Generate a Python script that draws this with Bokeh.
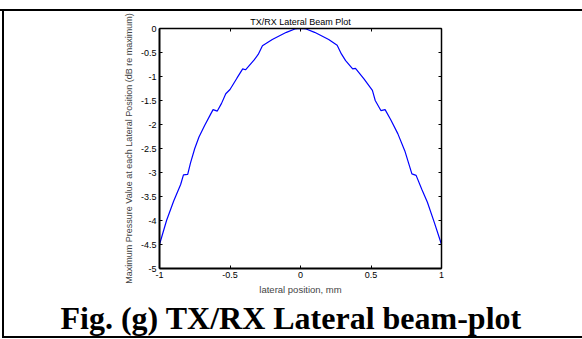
from bokeh.plotting import figure
from bokeh.models import Range1d, LinearAxis, FixedTicker, Title, Spacer
from bokeh.layouts import column, row
from bokeh.embed import file_html
from bokeh.resources import INLINE

# ---- data ----
lateral_mm = [-1.00, -0.95, -0.90, -0.85, -0.83, -0.80, -0.78, -0.75, -0.72, -0.68,
              -0.64, -0.62, -0.59, -0.56, -0.53, -0.50, -0.45, -0.41, -0.39, -0.33,
              -0.30, -0.27, -0.20, -0.10, -0.04, 0.00, 0.04, 0.10, 0.20, 0.26,
              0.29, 0.32, 0.37, 0.39, 0.45, 0.51, 0.53, 0.57, 0.60, 0.64,
              0.69, 0.74, 0.79, 0.82, 0.86, 0.90, 0.95, 1.00]
pressure_db = [-4.50, -4.00, -3.60, -3.25, -3.05, -3.04, -2.80, -2.50, -2.26, -2.02,
               -1.80, -1.69, -1.72, -1.56, -1.36, -1.27, -1.03, -0.84, -0.86, -0.66,
               -0.54, -0.36, -0.23, -0.08, -0.01, 0.00, -0.01, -0.08, -0.23, -0.35,
               -0.53, -0.67, -0.84, -0.83, -1.05, -1.29, -1.50, -1.71, -1.69, -1.90,
               -2.19, -2.55, -3.03, -3.06, -3.35, -3.62, -4.05, -4.50]
x_ticks = [-1, -0.5, 0, 0.5, 1]
x_tick_labels = ["-1", "-0.5", "0", "0.5", "1"]
y_ticks = [0, -0.5, -1, -1.5, -2, -2.5, -3, -3.5, -4, -4.5, -5]
y_tick_labels = ["0", "-0.5", "-1", "-1.5", "-2", "-2.5", "-3", "-3.5", "-4", "-4.5", "-5"]

title_text = "TX/RX Lateral Beam Plot"
x_label = "lateral position, mm"
y_label = "Maximum Pressure Value at each Lateral Position (dB re maximum)"
caption = "Fig. (g) TX/RX Lateral beam-plot"

FONT = "Liberation Sans"
PW, PH = 570, 325   # figure canvas, placed at (4, 11) inside the 582 x 339 page

p = figure(width=PW, height=PH, output_backend="svg", toolbar_location=None,
           x_range=Range1d(-1, 1), y_range=Range1d(-5, 0),
           x_axis_location=None, y_axis_location=None,
           min_border_left=155, min_border_right=PW - 155 - 282,
           min_border_top=17, min_border_bottom=68)
p.outline_line_color = None
p.xgrid.visible = False
p.ygrid.visible = False
p.background_fill_color = "white"
p.border_fill_color = "white"

p.line(lateral_mm, pressure_db, line_color="#0000ff", line_width=1.2)


def style_axis(ax, ticks, labels, show_labels, lw):
    ax.ticker = FixedTicker(ticks=ticks)
    ax.major_label_overrides = {t: l for t, l in zip(ticks, labels)}
    ax.minor_tick_line_color = None
    ax.major_tick_in = 3
    ax.major_tick_out = 0
    ax.major_tick_line_color = "black"
    ax.axis_line_color = "black"
    ax.axis_line_width = lw
    ax.major_label_text_font = FONT
    ax.major_label_text_font_size = "9px"
    ax.major_label_text_color = "black"
    ax.major_label_standoff = 3
    if not show_labels:
        ax.major_label_text_alpha = 0.0
        ax.major_label_text_font_size = "1px"
        ax.major_label_standoff = 0


xb = LinearAxis()
style_axis(xb, x_ticks, x_tick_labels, True, 2)
xb.axis_label = x_label
xb.axis_label_text_font = FONT
xb.axis_label_text_font_size = "9.5px"
xb.axis_label_text_font_style = "normal"
xb.axis_label_standoff = 3
p.add_layout(xb, "below")

yl = LinearAxis()
style_axis(yl, y_ticks, y_tick_labels, True, 2)
yl.axis_label = y_label
yl.axis_label_text_font = FONT
yl.axis_label_text_font_size = "9px"
yl.axis_label_text_font_style = "normal"
yl.axis_label_standoff = 4
p.add_layout(yl, "left")

xt = LinearAxis()
style_axis(xt, x_ticks, x_tick_labels, False, 1.5)
p.add_layout(xt, "above")

yr = LinearAxis()
style_axis(yr, y_ticks, y_tick_labels, False, 1.5)
p.add_layout(yr, "right")

# title above the frame, caption below the x axis
p.add_layout(Title(text=title_text, align="center", text_font=FONT,
                   text_font_size="9px", text_font_style="normal",
                   text_color="black", standoff=3, offset=0), "above")
p.add_layout(Title(text=caption, align="left", offset=-99,
                   text_font="Liberation Serif", text_font_style="bold",
                   text_font_size="32px", text_color="black", standoff=0), "below")

# table rules around the figure (they run on to the page's right edge)
BLACK = {"background-color": "black"}
top_gap = Spacer(width=582, height=9)
top_rule = Spacer(width=582, height=2, styles=BLACK)
middle = row(Spacer(width=2, height=PH), Spacer(width=2, height=PH, styles=BLACK), p,
             spacing=0)
bottom_rule = row(Spacer(width=2, height=2), Spacer(width=580, height=2, styles=BLACK),
                  spacing=0)
bottom_gap = Spacer(width=582, height=1)
page = column(top_gap, top_rule, middle, bottom_rule, bottom_gap, spacing=0)

open("out.html", "w").write(file_html(page, INLINE))
